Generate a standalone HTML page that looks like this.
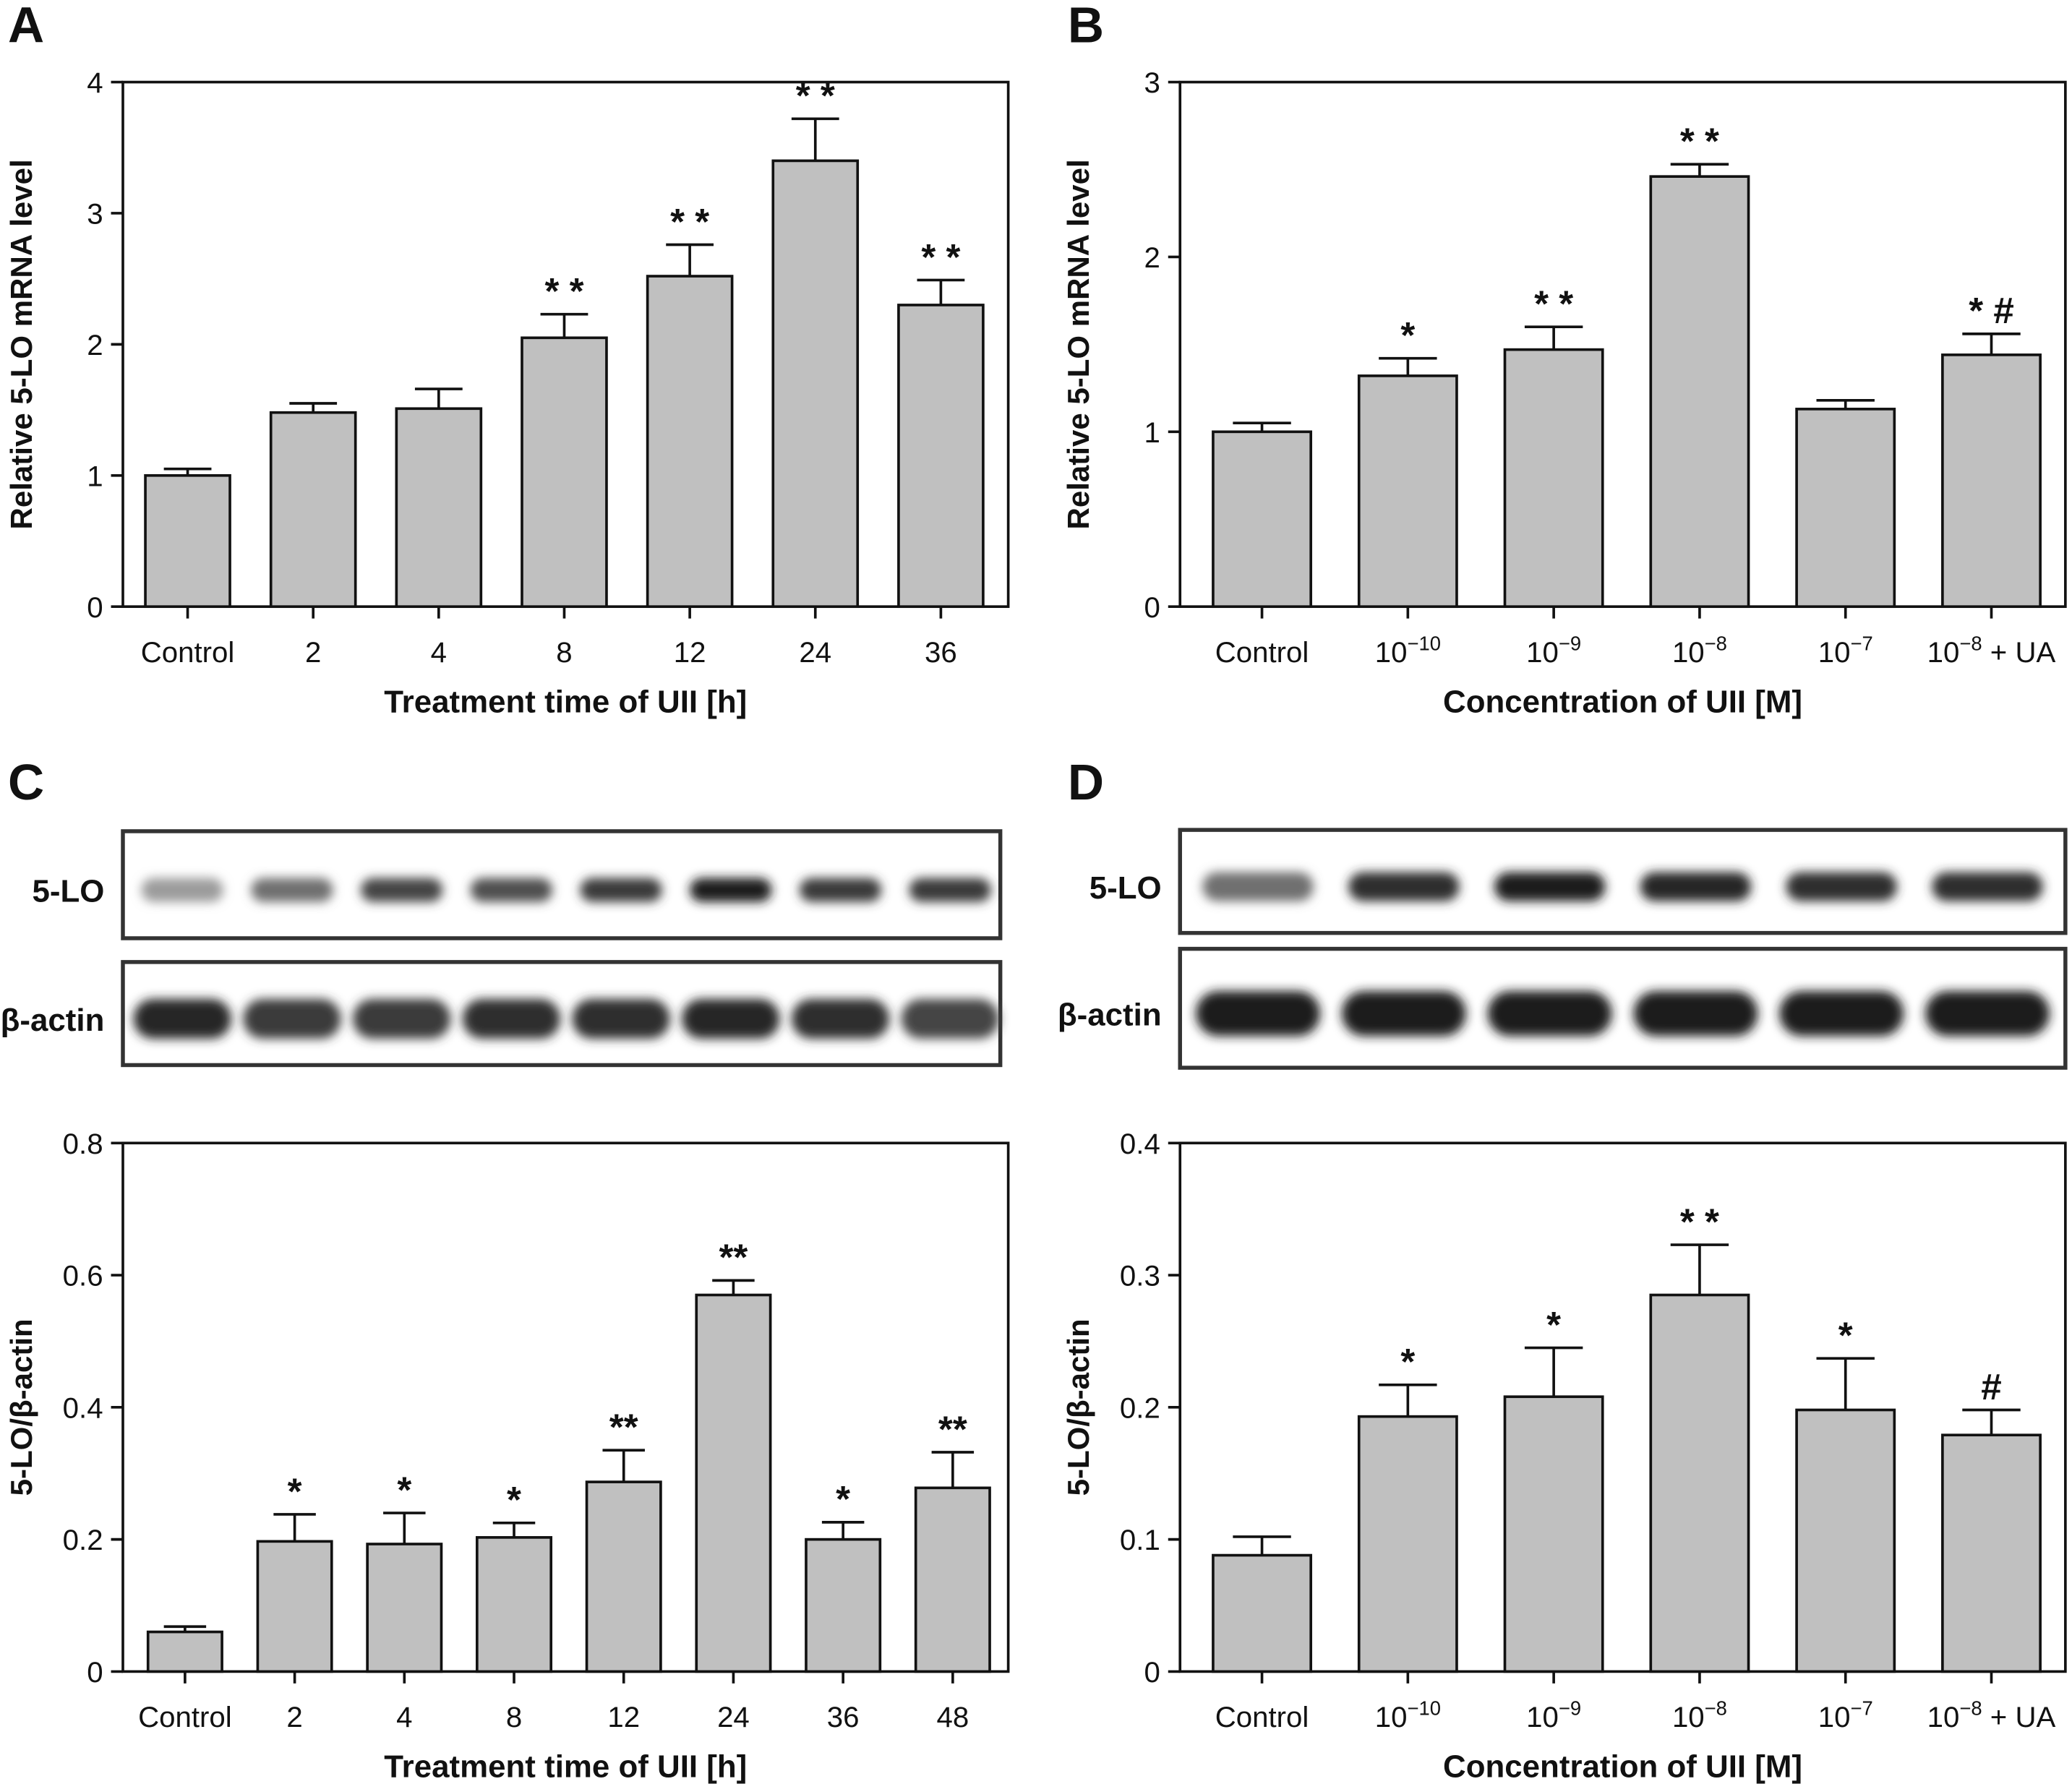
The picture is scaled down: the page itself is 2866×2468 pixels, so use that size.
<!DOCTYPE html>
<html><head><meta charset="utf-8"><style>
html,body{margin:0;padding:0;background:#fff}
svg{display:block}
text{font-family:"Liberation Sans",sans-serif;fill:#111}
</style></head><body>
<svg id="fig" width="2866" height="2468" viewBox="0 0 1568 1350" xmlns="http://www.w3.org/2000/svg">
<defs>
<filter id="blur" x="-20%" y="-50%" width="140%" height="200%"><feGaussianBlur stdDeviation="4"/></filter>
</defs>
<g id="root"></g>
</svg>
<script>
// Panel A data
const aCats=["Control","2","4","8","12","24","36"];
const aVals=[1.0,1.48,1.51,2.05,2.52,3.40,2.30];
const aErr=[1.05,1.55,1.66,2.23,2.76,3.72,2.49];
const aSig=["","","","* *","* *","* *","* *"];
const aTicks=[0,1,2,3,4];
// Panel B data
const bCats=["Control","10|−10","10|−9","10|−8","10|−7","10|−8| + UA"];
const bVals=[1.0,1.32,1.47,2.46,1.13,1.44];
const bErr=[1.05,1.42,1.60,2.53,1.18,1.56];
const bSig=["","*","* *","* *","","* #"];
const bTicks=[0,1,2,3];
// Panel C data
const cCats=["Control","2","4","8","12","24","36","48"];
const cVals=[0.06,0.197,0.193,0.203,0.287,0.57,0.20,0.278];
const cErr=[0.068,0.238,0.24,0.225,0.335,0.592,0.226,0.332];
const cSig=["","*","*","*","**","**","*","**"];
const cTicks=[0,0.2,0.4,0.6,0.8];
// Panel D data
const dCats=bCats;
const dVals=[0.088,0.193,0.208,0.285,0.198,0.179];
const dErr=[0.102,0.217,0.245,0.323,0.237,0.198];
const dSig=["","*","*","* *","*","#"];
const dTicks=[0,0.1,0.2,0.3,0.4];
// blot intensities (darkness 0-1)
const cLO=[0.35,0.55,0.75,0.7,0.8,0.95,0.8,0.8];
const cAct=[0.9,0.8,0.8,0.85,0.85,0.9,0.85,0.75];
const dLO=[0.55,0.85,0.95,0.9,0.85,0.85];
const dAct=[0.95,0.95,0.95,0.95,0.95,0.95];

const NS="http://www.w3.org/2000/svg";
const root=document.getElementById('root');
function el(tag,attrs,parent){const e=document.createElementNS(NS,tag);for(const k in attrs)e.setAttribute(k,attrs[k]);(parent||root).appendChild(e);return e;}

function chart(p){
  const g=el('g',{});
  
  
  const {L,R,T,B,max}=p;
  const y=v=>B-(v/max)*(B-T);
  const x=i=>p.x0+i*p.dx;
  const fr=el('rect',{x:L,y:T,width:R-L,height:B-T,fill:'none',stroke:'#111','stroke-width':2},g);
  
  
  p.ticks.forEach(t=>{
    const ln=el('line',{x1:L-9,x2:L,y1:y(t),y2:y(t),stroke:'#111','stroke-width':2},g);
    
    
    const tx=el('text',{x:L-15,y:y(t)+8,'text-anchor':'end','font-size':22},g);
    tx.textContent=p.fmt(t);
    
    
  });
  p.vals.forEach((v,i)=>{
    const cx=x(i);
    const er=el('line',{x1:cx,x2:cx,y1:y(v),y2:y(p.err[i]),stroke:'#111','stroke-width':2},g);
    
    
    const cap=el('line',{x1:cx-p.cap,x2:cx+p.cap,y1:y(p.err[i]),y2:y(p.err[i]),stroke:'#111','stroke-width':2},g);
    
    
    const r=el('rect',{x:cx-p.bw/2,y:y(v),width:p.bw,height:B-y(v),fill:'#c0c0c0',stroke:'#111','stroke-width':2},g);
    
    
    const tk=el('line',{x1:cx,x2:cx,y1:B,y2:B+9,stroke:'#111','stroke-width':2},g);
    
    
    if(p.sig[i]){
      const s=el('text',{x:cx,y:y(p.err[i])-8,'text-anchor':'middle','font-size':28,'font-weight':'bold'},g);
      s.textContent=p.sig[i];
      
      
    }
    const lb=el('text',{x:cx,y:B+42,'text-anchor':'middle','font-size':22},g);
    
    
    const parts=p.cats[i].split('|');
    const t0=el('tspan',{},lb);t0.textContent=parts[0];
    if(parts[1]){const t1=el('tspan',{dy:-9,'font-size':15},lb);t1.textContent=parts[1];}
    if(parts[2]){const t2=el('tspan',{dy:9},lb);t2.textContent=parts[2];}
  });
  const xt=el('text',{x:(L+R)/2,y:B+80,'text-anchor':'middle','font-size':24,'font-weight':'bold'},g);
  xt.textContent=p.xtitle;
  
  
  const yt=el('text',{x:0,y:0,'text-anchor':'middle','font-size':23,'font-weight':'bold',transform:`translate(${L-69},${(T+B)/2}) rotate(-90)`},g);
  yt.textContent=p.ytitle;
  
  
}

function blot(name,label,L,R,T,Bt,x0,dx,bw,ints,h){
  const g=el('g',{});
  
  
  const bx=el('rect',{x:L,y:T,width:R-L,height:Bt-T,fill:'#fff',stroke:'#333','stroke-width':3},g);
  
  
  const cy=(T+Bt)/2+4;
  ints.forEach((d,i)=>{
    const c=Math.round(230-215*d);
    const e=el('rect',{x:x0+i*dx-bw/2,y:cy-h/2,width:bw,height:h,rx:h/2,fill:`rgb(${c},${c},${c})`,filter:'url(#blur)'},g);
    
    
  });
  const t=el('text',{x:L-14,y:cy+9,'text-anchor':'end','font-size':24,'font-weight':'bold'},g);
  t.textContent=label;
  
  
}

const f1=v=>String(v), f2=v=>v===0?'0':v.toFixed(1);
chart({name:'chart-a',L:93,R:763,T:62,B:459,max:4,x0:142,dx:95,bw:64,cap:18,cats:aCats,vals:aVals,err:aErr,sig:aSig,ticks:aTicks,fmt:f1,xtitle:'Treatment time of UII [h]',ytitle:'Relative 5-LO mRNA level'});
chart({name:'chart-b',L:893,R:1563,T:62,B:459,max:3,x0:955,dx:110.4,bw:74,cap:22,cats:bCats,vals:bVals,err:bErr,sig:bSig,ticks:bTicks,fmt:f1,xtitle:'Concentration of UII [M]',ytitle:'Relative 5-LO mRNA level'});
chart({name:'chart-c',L:93,R:763,T:865,B:1265,max:0.8,x0:140,dx:83,bw:56,cap:16,cats:cCats,vals:cVals,err:cErr,sig:cSig,ticks:cTicks,fmt:f2,xtitle:'Treatment time of UII [h]',ytitle:'5-LO/β-actin'});
chart({name:'chart-d',L:893,R:1563,T:865,B:1265,max:0.4,x0:955,dx:110.4,bw:74,cap:22,cats:dCats,vals:dVals,err:dErr,sig:dSig,ticks:dTicks,fmt:f2,xtitle:'Concentration of UII [M]',ytitle:'5-LO/β-actin'});
blot('blot-c-5lo','5-LO',93,757,629,710,138,83,62,cLO,18);
blot('blot-c-actin','β-actin',93,757,728,806,138,83,74,cAct,30);
blot('blot-d-5lo','5-LO',893,1563,628,706,952,110.4,84,dLO,22);
blot('blot-d-actin','β-actin',893,1563,718,808,952,110.4,94,dAct,34);
[['A',6,32],['B',808,32],['C',6,605],['D',808,605]].forEach(([t,x,y])=>{
  const e=el('text',{x:x,y:y,'font-size':38,'font-weight':'bold'});
  e.textContent=t;
  
  
});
</script>
</body></html>
